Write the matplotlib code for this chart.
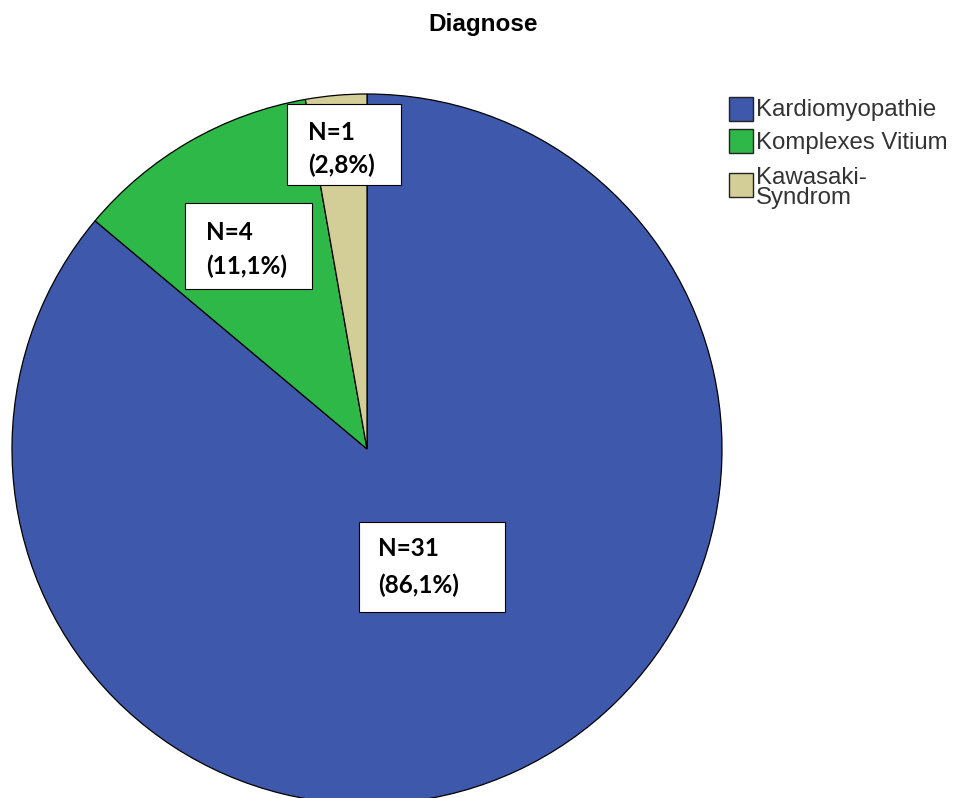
import matplotlib
matplotlib.use("Agg")
import matplotlib.pyplot as plt
from matplotlib.patches import Rectangle

categories = ["Kardiomyopathie", "Komplexes Vitium", "Kawasaki-\nSyndrom"]
counts = [31, 4, 1]
colors = ["#3E58AC", "#2EB848", "#D3CE97"]
title = "Diagnose"

W, H = 957, 798
fig = plt.figure(figsize=(W / 100, H / 100), dpi=100)

# pie centred at (367, 449) px from top-left, radius 355 px
cx, cy, r = 367, 449, 355
ax = fig.add_axes([(cx - r) / W, (H - cy - r) / H, 2 * r / W, 2 * r / H])
ax.pie(counts, colors=colors, startangle=90, counterclock=False,
       wedgeprops=dict(edgecolor="black", linewidth=0.9))
ax.set_xlim(-1, 1)
ax.set_ylim(-1, 1)
ax.set_aspect("equal")
ax.axis("off")

# overlay in pixel coordinates for title, labels and legend
ov = fig.add_axes([0, 0, 1, 1], zorder=5)
ov.set_xlim(0, W)
ov.set_ylim(H, 0)
ov.axis("off")
ov.patch.set_alpha(0)

ov.text(483, 25, title, ha="center", va="center", fontsize=17.5,
        fontweight="bold", family="Liberation Sans")

# value boxes: (left, top, width, height, text-x, line1-y, line2-y)
boxes = [
    (359, 522, 146, 90, 378, 549, 585),
    (185, 203, 127, 86, 206, 232, 266),
    (287, 104, 114, 81, 308, 132, 165),
]
total = sum(counts)
for n, (bx, by, bw, bh, tx, y1, y2) in zip(counts, boxes):
    ov.add_patch(Rectangle((bx, by), bw, bh, facecolor="white",
                           edgecolor="black", linewidth=0.8))
    pct = f"{100 * n / total:.1f}".replace(".", ",")
    ov.text(tx, y1, f"N={n}", ha="left", va="center", fontsize=17.5,
            fontweight="bold", family="Lato")
    ov.text(tx, y2, f"({pct}%)", ha="left", va="center", fontsize=17.5,
            fontweight="bold", family="Lato")

# legend
leg_rows = [(97, 110), (129, 143), (173, 188)]
for cat, col, (sq_top, ty) in zip(categories, colors, leg_rows):
    ov.add_patch(Rectangle((729, sq_top), 24, 24, facecolor=col,
                           edgecolor="#222222", linewidth=1.0))
    ov.text(756, ty, cat, ha="left", va="center", fontsize=17.3,
            family="Liberation Sans", color="#333333", linespacing=0.85)

fig.savefig("out.png", dpi=100)
